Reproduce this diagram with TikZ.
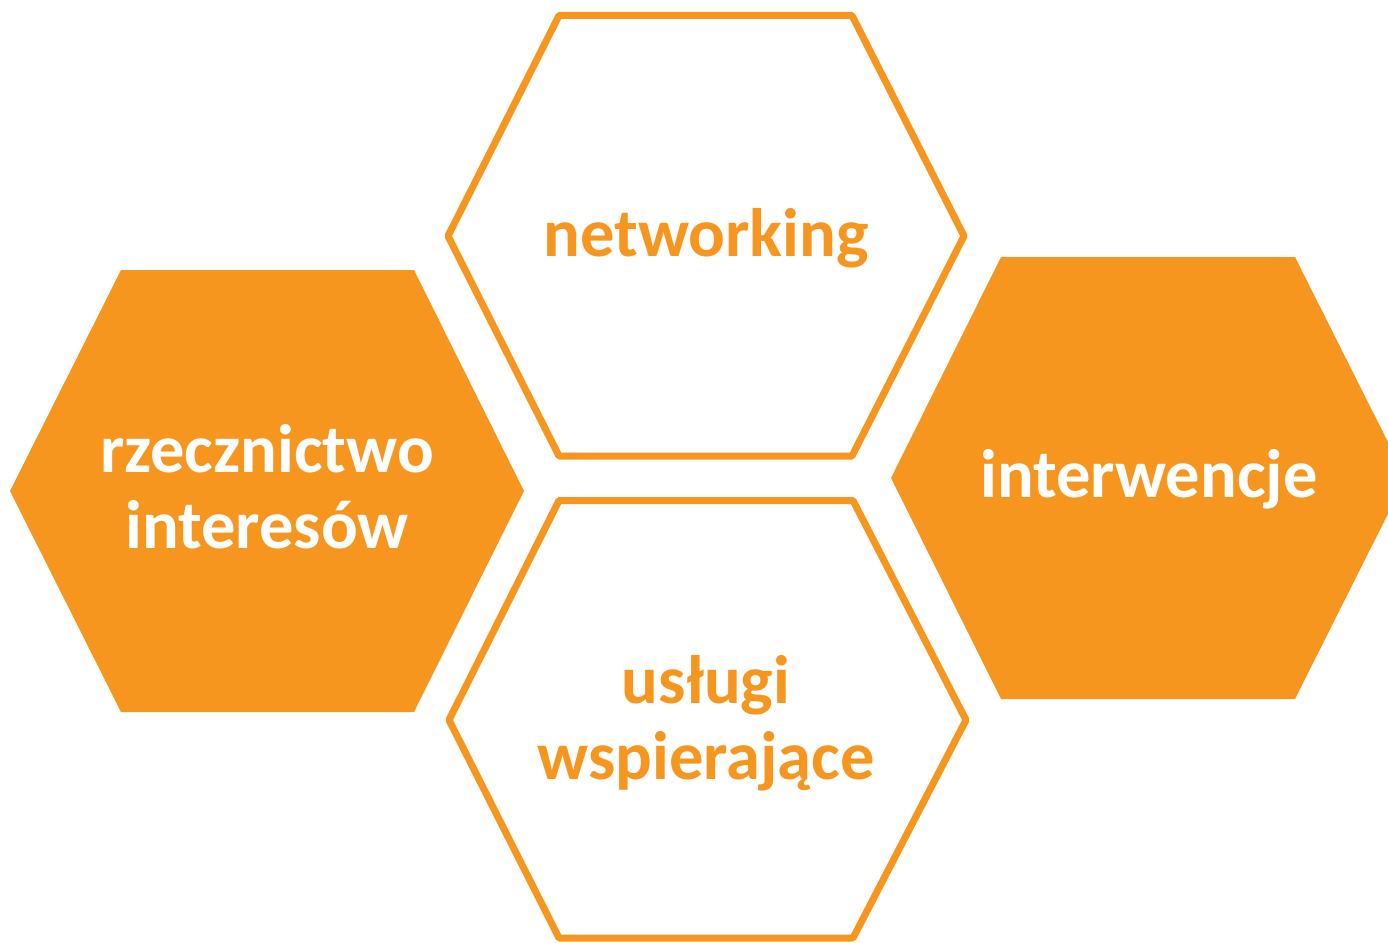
\documentclass[tikz,border=0pt]{standalone}
\usepackage{fontspec}
\setmainfont{Carlito}
\definecolor{hexorange}{HTML}{F6961F}
\begin{document}
\begin{tikzpicture}[x=1pt,y=-1pt,
  hexfill/.style={fill=hexorange,draw=none},
  hexline/.style={draw=hexorange,line width=7pt,line join=round,fill=white},
  lbl/.style={font=\fontsize{68.5}{76}\selectfont\bfseries,align=center,inner sep=0pt,anchor=base}]
\useasboundingbox (0,0) rectangle (1388,942);
\clip (0,0) rectangle (1388,942);
% left filled hexagon
\path[hexfill] (121,270) -- (414,270) -- (524,491) -- (414,712) -- (121,712) -- (10,491) -- cycle;
% right filled hexagon
\path[hexfill] (1001,257) -- (1295,257) -- (1406,478) -- (1295,699) -- (1001,699) -- (891,478) -- cycle;
% top outline hexagon
\draw[hexline] (559,15.5) -- (852,15.5) -- (964,236) -- (852,456) -- (559,456) -- (448,236) -- cycle;
% bottom outline hexagon
\draw[hexline] (559,500.5) -- (853,500.5) -- (966,720) -- (853,938) -- (559,938) -- (449,720) -- cycle;
\node[lbl,text=white] (rz) at (267,548) {rzecznictwo\\interesów};
\node[lbl,text=hexorange] (nw) at (706,256) {networking};
\node[lbl,text=white] (iw) at (1149,497) {interwencje};
\node[lbl,text=hexorange] (us) at (706,779) {usługi\\wspierające};
\end{tikzpicture}
\end{document}
